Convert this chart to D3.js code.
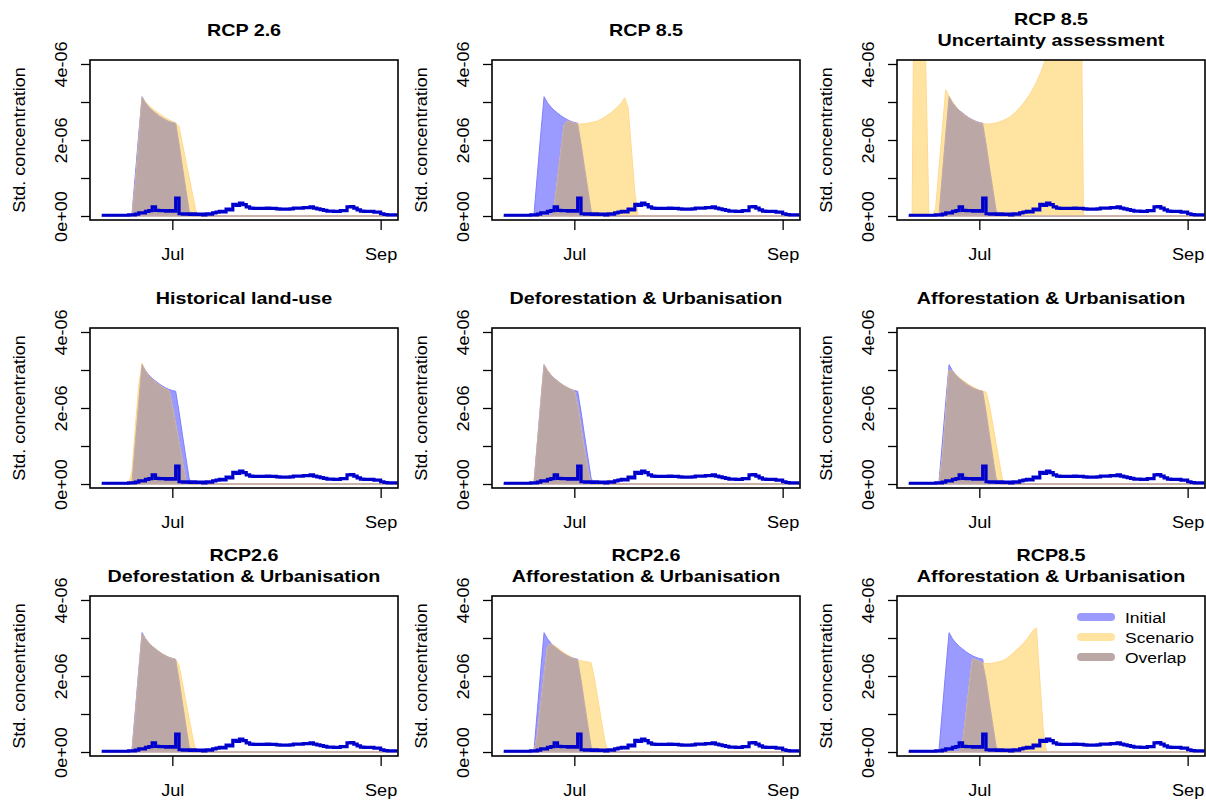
<!DOCTYPE html>
<html>
<head>
<meta charset="utf-8">
<script src="https://cdn.jsdelivr.net/npm/d3@7"></script>
<style>
  body { margin: 0; background: #fff; }
  text { font-family: "Liberation Sans", Arial, sans-serif; }
</style>
</head>
<body>
<div id="chart"></div>
<script>
'use strict'

// days are counted from 1 July, values are in units of 1e-06
let unit = 1e-6
let dayFirst = -21 // 10 June

// observed (thick blue line), one value per day from dayFirst
let observed = [
  0.02, 0.02, 0.02, 0.02, 0.02, 0.02, 0.02, 0.02, 0.03, 0.03,
  0.05, 0.08, 0.08, 0.12, 0.14, 0.24, 0.15, 0.14, 0.14, 0.13, 0.14,
  0.13, 0.47, 0.06, 0.05, 0.06, 0.04, 0.06, 0.04, 0.05, 0.03,
  0.06, 0.05, 0.08, 0.10, 0.12, 0.11, 0.18, 0.16, 0.31, 0.28,
  0.34, 0.30, 0.24, 0.21, 0.20, 0.20, 0.20, 0.20, 0.21, 0.20,
  0.20, 0.19, 0.18, 0.18, 0.18, 0.19, 0.21, 0.21, 0.21, 0.22,
  0.22, 0.24, 0.21, 0.19, 0.17, 0.15, 0.13, 0.13, 0.12, 0.12,
  0.14, 0.14, 0.24, 0.25, 0.21, 0.16, 0.13, 0.12, 0.12, 0.12,
  0.10, 0.10, 0.06, 0.04, 0.03, 0.03, 0.03, 0.03
]

// initial season (same in every panel)
let initialStart = -13
let initialVals = [0, 0.05, 1.1, 2.15, 3.14, 2.98, 2.87, 2.78, 2.71, 2.64,
  2.58, 2.53, 2.49, 2.46, 2.44, 1.9, 1.3, 0.72, 0.15, 0]

let titles = [
  ["RCP 2.6"],
  ["RCP 8.5"],
  ["RCP 8.5", "Uncertainty assessment"],
  ["Historical land-use"],
  ["Deforestation & Urbanisation"],
  ["Afforestation & Urbanisation"],
  ["RCP2.6", "Deforestation & Urbanisation"],
  ["RCP2.6", "Afforestation & Urbanisation"],
  ["RCP8.5", "Afforestation & Urbanisation"]
]

let scenarioStarts = [-13, -7, -21, -13, -12, -12, -13, -12, -6]
let scenarioVals = [
  [0, 0, 0.85, 1.95, 3.12, 3.0, 2.91, 2.83, 2.76, 2.70, 2.64, 2.58, 2.53, 2.49, 2.45,
    2.35, 1.9, 1.46, 1.02, 0.58, 0.14, 0],
  [0, 0.2, 0.95, 1.7, 2.4, 2.5, 2.47, 2.44, 2.42, 2.42, 2.43, 2.44, 2.46, 2.48, 2.5,
    2.55, 2.6, 2.66, 2.72, 2.8, 2.88, 2.98, 3.11, 2.85, 1.75, 0.6, 0],
  [0, 0, 11, 12, 10, 4.2, 0, 0,
    0.2, 1.25, 2.3, 3.32,
    3.15, 3.0, 2.88, 2.78, 2.7, 2.63, 2.57, 2.52, 2.48,
    2.45, 2.43, 2.42, 2.42, 2.43, 2.45, 2.48, 2.51, 2.55, 2.6,
    2.67, 2.75, 2.85, 2.95, 3.07, 3.2, 3.35, 3.52, 3.72, 3.95,
    4.2, 4.5, 4.8, 5.1, 5.5, 5.9, 6.3, 6.8, 7.3, 7.8,
    8.3, 0],
  [0, 0.35, 1.5, 2.6, 3.18, 2.97, 2.85, 2.76, 2.68, 2.61, 2.55, 2.5, 2.46,
    2.04, 1.56, 1.07, 0.58, 0.1, 0],
  [0, 1.05, 2.1, 3.13, 2.98, 2.87, 2.78, 2.71, 2.64, 2.58, 2.53, 2.49, 2.45,
    2.05, 1.45, 0.9, 0.35, 0],
  [0, 0.7, 1.8, 3.0, 2.97, 2.88, 2.8, 2.73, 2.67, 2.61, 2.56, 2.51, 2.47, 2.44, 2.42,
    2.08, 1.57, 1.06, 0.56, 0.05, 0],
  [0, 0.02, 0.95, 2.05, 3.1, 2.97, 2.87, 2.78, 2.71, 2.64, 2.58, 2.53, 2.49, 2.46, 2.43,
    2.28, 1.82, 1.35, 0.88, 0.42, 0],
  [0, 0.45, 1.2, 2.0, 2.75, 2.85, 2.8, 2.74, 2.67, 2.61, 2.55, 2.5,
    2.45, 2.42, 2.4, 2.38, 2.37, 2.35, 1.92, 1.39, 0.85, 0.32, 0],
  [0, 0.2, 0.95, 1.75, 2.45, 2.42, 2.38, 2.34, 2.33, 2.33, 2.34, 2.36, 2.38, 2.4,
    2.45, 2.52, 2.6, 2.68, 2.76, 2.85, 2.95, 3.07, 3.2, 3.26, 1.9, 0.6, 0]
]

let yTicks = [0, 1, 2, 3, 4]
let yTickLabels = ["0e+00", "", "2e-06", "", "4e-06"]
let xTickDays = [0, 62] // Jul 1, Sep 1
let legendLabels = ["Initial", "Scenario", "Overlap"]

/*
  Layout and styles
*/
let width = 1206
let height = 803
let colOffsets = [0, 402, 807]
let rowOffsets = [0, 268, 536]
let box = { left: 90, right: 398, top: 60, bottom: 220 }
let stretch = 1.13

let colInitial = "#9a9aff"
let colScenario = "#ffe4a1"
let colOverlap = "#bba8a6"
let colLine = "#0000cd"

function dayToDate(d) {
  return new Date(2018, 6, 1 + d)
}

function valueAt(start, vals, d) {
  let i = d - start
  if (i < 0 || i >= vals.length) return 0
  return vals[i]
}

let days = observed.map((v, i) => dayFirst + i)

let x = d3.scaleTime()
  .domain([new Date(2018, 5, 6, 12), new Date(2018, 8, 6, 4)])
  .range([box.left, box.right])

let y = d3.scaleLinear()
  .domain([-0.105 * unit, 4.105 * unit])
  .range([box.bottom, box.top])

let area = d3.area()
  .x(p => x(p.date))
  .y0(y(0))
  .y1(p => y(p.v * unit))

let line = d3.line()
  .curve(d3.curveStepAfter)
  .x(p => x(p.date))
  .y(p => y(p.v * unit))

let svg = d3.select("#chart").append("svg")
  .attr("width", width)
  .attr("height", height)

titles.forEach(function (title, k) {
  let g = svg.append("g")
    .attr("transform", "translate(" + colOffsets[k % 3] + "," + rowOffsets[Math.floor(k / 3)] + ")")

  g.append("clipPath").attr("id", "clip" + k)
    .append("rect")
    .attr("x", box.left).attr("y", box.top)
    .attr("width", box.right - box.left).attr("height", box.bottom - box.top)

  let plot = g.append("g").attr("clip-path", "url(#clip" + k + ")")

  let init = days.map(d => ({ date: dayToDate(d), v: valueAt(initialStart, initialVals, d) }))
  let scen = days.map(d => ({ date: dayToDate(d), v: valueAt(scenarioStarts[k], scenarioVals[k], d) }))
  let both = init.map((p, i) => ({ date: p.date, v: Math.min(p.v, scen[i].v) }))
  let obs = days.map((d, i) => ({ date: dayToDate(d), v: observed[i] }))

  plot.append("path").attr("d", area(init))
    .attr("fill", colInitial).attr("stroke", "#8080ff").attr("stroke-width", 1)
  plot.append("path").attr("d", area(scen))
    .attr("fill", colScenario).attr("stroke", "#ffd990").attr("stroke-width", 1)
  plot.append("path").attr("d", area(both))
    .attr("fill", colOverlap).attr("stroke", "#c4aaa8").attr("stroke-width", 1)
  plot.append("path").attr("d", line(obs))
    .attr("fill", "none").attr("stroke", colLine).attr("stroke-width", 3.2)

  // axes
  let yAxis = d3.axisLeft(y)
    .tickValues(yTicks.map(v => v * unit))
    .tickSize(9)
    .tickFormat((d, i) => yTickLabels[i])
  g.append("g")
    .attr("transform", "translate(" + box.left + ",0)")
    .call(yAxis)
    .attr("font-family", null).attr("font-size", 16)
    .call(a => a.select(".domain").remove())
    .call(a => a.selectAll("line").attr("stroke", "#000").attr("stroke-width", 1.3))
    .call(a => a.selectAll("text")
      .attr("x", 0).attr("y", 0).attr("dy", null)
      .attr("text-anchor", "middle").attr("fill", "#000")
      .attr("transform", "translate(-23,0) rotate(-90) scale(" + stretch + ",1)"))

  let xAxis = d3.axisBottom(x)
    .tickValues(xTickDays.map(dayToDate))
    .tickSize(10)
    .tickFormat(d3.timeFormat("%b"))
  g.append("g")
    .attr("transform", "translate(0," + box.bottom + ")")
    .call(xAxis)
    .attr("font-family", null).attr("font-size", 16)
    .call(a => a.select(".domain").remove())
    .call(a => a.selectAll("line").attr("stroke", "#000").attr("stroke-width", 1.3))
    .call(a => a.selectAll("text")
      .attr("y", 0).attr("dy", null).attr("fill", "#000")
      .attr("transform", "translate(0,40) scale(" + stretch + ",1)"))

  g.append("rect")
    .attr("x", box.left).attr("y", box.top)
    .attr("width", box.right - box.left).attr("height", box.bottom - box.top)
    .attr("fill", "none").attr("stroke", "#000").attr("stroke-width", 1.6)

  g.append("text")
    .attr("text-anchor", "middle")
    .attr("font-size", 16)
    .attr("transform", "translate(25," + (box.top + box.bottom) / 2 + ") rotate(-90) scale(" + stretch + ",1)")
    .text("Std. concentration")

  // title, one or two lines
  let cx = (box.left + box.right) / 2
  let baselines = title.length === 1 ? [35.5] : [24.5, 46]
  title.forEach(function (t, j) {
    g.append("text")
      .attr("text-anchor", "middle")
      .attr("font-size", 17)
      .attr("font-weight", "bold")
      .attr("transform", "translate(" + cx + "," + baselines[j] + ") scale(1.16,1)")
      .text(t)
  })

  // legend in the last panel
  if (k === 8) {
    let legendColors = [colInitial, colScenario, colOverlap]
    let leg = g.selectAll(".legend")
      .data(legendLabels)
      .enter()
      .append("g")
      .attr("class", "legend")
      .attr("transform", (d, i) => "translate(0," + (81 + i * 20) + ")")
    leg.append("line")
      .attr("x1", 274).attr("x2", 304)
      .attr("stroke", (d, i) => legendColors[i])
      .attr("stroke-width", 8)
      .attr("stroke-linecap", "round")
    leg.append("text")
      .attr("font-size", 15.5)
      .attr("transform", "translate(318,5.5) scale(" + stretch + ",1)")
      .text(d => d)
  }
})
</script>
</body>
</html>
